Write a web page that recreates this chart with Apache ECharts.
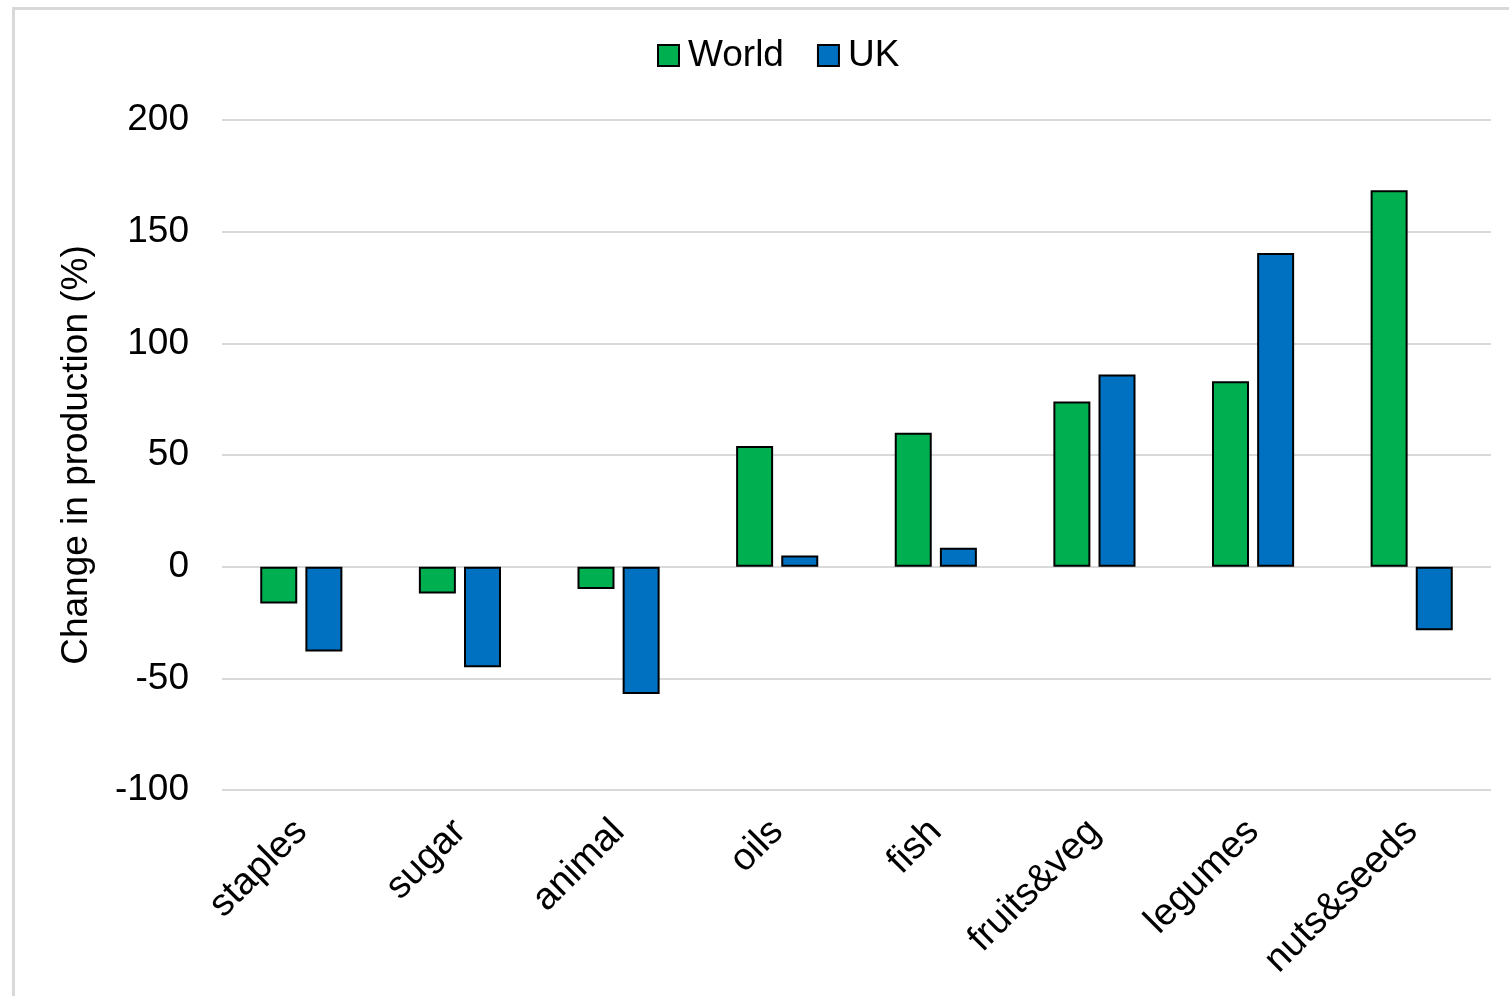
<!DOCTYPE html>
<html>
<head>
<meta charset="utf-8">
<script src="https://cdn.jsdelivr.net/npm/echarts@6/dist/echarts.min.js"></script>
<style>
  html, body { margin: 0; padding: 0; background: #fff; }
  #chart { width: 1509px; height: 996px; }
</style>
</head>
<body>
<div id="chart"></div>
<script>
// Food groups and percentage change in production
const categories = ['staples', 'sugar', 'animal', 'oils', 'fish', 'fruits&veg', 'legumes', 'nuts&seeds'];
const worldValues = [-16.5, -12, -10, 54, 60, 74, 83, 168.5];
const ukValues = [-38, -45, -57, 5, 8.5, 86, 140.5, -28.5];
const seriesNames = ['World', 'UK'];
const yTicks = { min: -100, max: 200, step: 50 };

const FONT = 'Liberation Sans, Arial, sans-serif';
const chart = echarts.init(document.getElementById('chart'), null, { renderer: 'canvas' });

chart.setOption({
  animation: false,
  backgroundColor: '#ffffff',
  textStyle: { fontFamily: FONT },
  graphic: [{
    type: 'rect',
    left: 11, top: 6,
    shape: { x: 0, y: 0, width: 1520, height: 1010 },
    style: { fill: 'none', stroke: '#d9d9d9', lineWidth: 3 },
    silent: true
  }],
  legend: {
    data: seriesNames,
    left: 652, top: 32,
    itemWidth: 21, itemHeight: 21,
    itemGap: 33,
    icon: 'rect',
    textStyle: { fontSize: 37, color: '#000', fontFamily: FONT, padding: [0, 0, 0, 4] }
  },
  grid: { left: 222, right: 18, top: 120, bottom: 206, containLabel: false },
  xAxis: {
    type: 'category',
    data: categories,
    position: 'bottom',
    axisLine: { show: false, onZero: false },
    axisTick: { show: false },
    axisLabel: {
      rotate: 45, fontSize: 38, color: '#000', fontFamily: FONT,
      margin: 36, interval: 0
    }
  },
  yAxis: {
    type: 'value',
    min: yTicks.min, max: yTicks.max, interval: yTicks.step,
    name: 'Change in production (%)',
    nameLocation: 'middle',
    nameGap: 127,
    nameTextStyle: { fontSize: 37, color: '#000', fontFamily: FONT },
    axisLine: { show: false },
    axisTick: { show: false },
    axisLabel: { fontSize: 37, color: '#000', fontFamily: FONT, margin: 33 },
    splitLine: { lineStyle: { color: '#d9d9d9', width: 2 } }
  },
  series: [
    {
      name: seriesNames[0], type: 'bar', data: worldValues,
      barWidth: 37, barGap: '22%',
      itemStyle: { color: '#00b050', borderColor: '#000', borderWidth: 2 }
    },
    {
      name: seriesNames[1], type: 'bar', data: ukValues,
      barWidth: 37,
      itemStyle: { color: '#0070c0', borderColor: '#000', borderWidth: 2 }
    }
  ]
});
</script>
</body>
</html>
